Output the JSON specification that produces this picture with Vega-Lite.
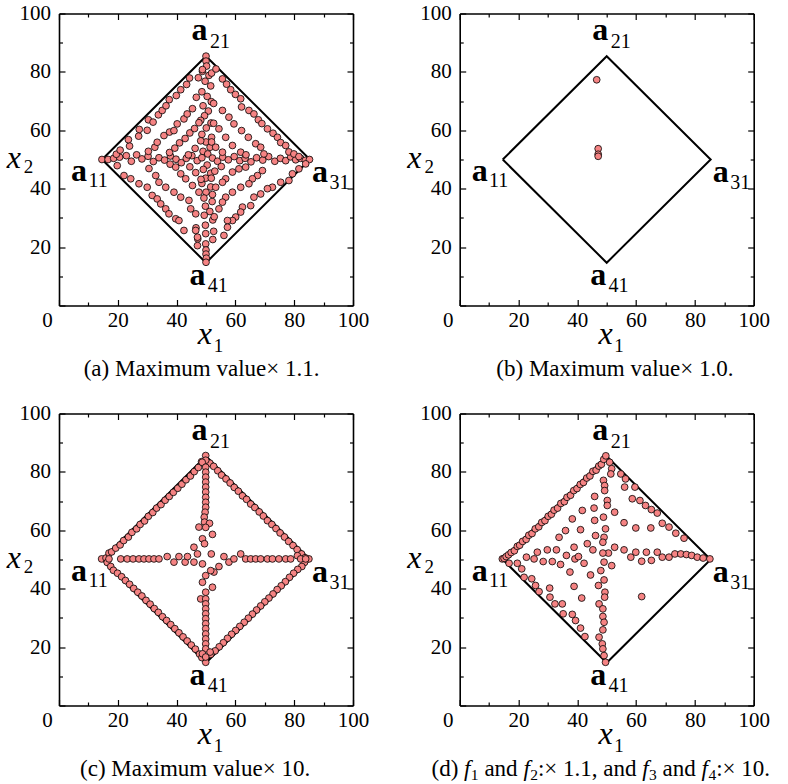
{
"$schema":"https://vega.github.io/schema/vega-lite/v6.json",
"background":"white",
"padding":{"left":6,"top":2.5,"right":5,"bottom":5},
"config":{"font":"Liberation Serif, Times New Roman, Times, serif","view":{"stroke":null},
 "text":{"font":"Liberation Serif, Times New Roman, Times, serif"},
 "axis":{"grid":false,"tickColor":"#000","domainColor":"#000","domainWidth":1.6,"tickWidth":1.2,"labelFont":"Liberation Serif, Times New Roman, Times, serif","labelFontSize":21,"labelColor":"#000","labelFlush":false,"labelOverlap":false,"labelBound":false}},
"columns":2,
"bounds":"flush",
"spacing":{"row":108,"column":106.7},
"datasets":{
"diamond":[{"o":1,"x":14.64,"y":50},{"o":2,"x":50,"y":85.36},{"o":3,"x":85.36,"y":50},{"o":4,"x":50,"y":14.64},{"o":5,"x":14.64,"y":50}],
"labA":[{"x":47.8,"y":91.0,"t":"a"},{"x":47.1,"y":6.9,"t":"a"},{"x":6.8,"y":42.8,"t":"a"},{"x":88.8,"y":42.2,"t":"a"}],
"labSub":[{"x":51.4,"y":88.3,"t":"21"},{"x":50.6,"y":4.6,"t":"41"},{"x":10.0,"y":40.5,"t":"11"},{"x":92.0,"y":40.0,"t":"31"}],
"axX":[{"x":49.6,"y":-13.1,"t":"x"},{"x":-15.4,"y":47.0,"t":"x"}],
"axSub":[{"x":52.6,"y":-16.0,"t":"1"},{"x":-12.0,"y":45.3,"t":"2"}],
"capA":[{"x":48.5,"y":-24.3,"t":"(a) Maximum value× 1.1."}],
"capB":[{"x":52.8,"y":-24.3,"t":"(b) Maximum value× 1.0."}],
"capC":[{"x":46.3,"y":-24.3,"t":"(c) Maximum value× 10."}],
"capDu":[{"x":-9.6,"y":-24.3,"t":"(d)"},{"x":8.4,"y":-24.3,"t":"and"},{"x":26.62,"y":-24.3,"t":":× 1.1, and"},{"x":69.02,"y":-24.3,"t":"and"},{"x":87.24,"y":-24.3,"t":":× 10."}],
"capDi":[{"x":1.48,"y":-24.3,"t":"f"},{"x":21.66,"y":-24.3,"t":"f"},{"x":62.1,"y":-24.3,"t":"f"},{"x":82.28,"y":-24.3,"t":"f"}],
"capDs":[{"x":3.8,"y":-25.6,"t":"1"},{"x":23.98,"y":-25.6,"t":"2"},{"x":64.42,"y":-25.6,"t":"3"},{"x":84.6,"y":-25.6,"t":"4"}],
"ptsA":[
{"x":50.0,"y":85.4},{"x":50.0,"y":83.7},{"x":50.2,"y":82.0},{"x":48.8,"y":80.2},{"x":51.0,"y":78.8},{"x":49.7,"y":76.8},{"x":51.6,"y":75.2},{"x":48.6,"y":73.2},{"x":50.4,"y":71.6},{"x":51.8,"y":69.8},{"x":49.0,"y":68.4},{"x":50.8,"y":66.6},{"x":49.5,"y":65.0},{"x":48.2,"y":63.4},{"x":51.7,"y":62.5},{"x":50.1,"y":60.8},{"x":48.6,"y":58.6},{"x":51.9,"y":57.6},{"x":50.0,"y":56.0},{"x":51.4,"y":54.2},{"x":49.0,"y":52.8},{"x":50.6,"y":51.9},{"x":50.4,"y":48.1},{"x":49.1,"y":46.6},{"x":51.6,"y":45.3},{"x":49.9,"y":43.6},{"x":48.6,"y":41.8},{"x":51.6,"y":40.6},{"x":50.0,"y":38.8},{"x":49.3,"y":36.8},{"x":52.1,"y":35.6},{"x":49.8,"y":34.0},{"x":51.3,"y":32.2},{"x":49.4,"y":30.9},{"x":52.3,"y":29.3},{"x":49.8,"y":27.5},{"x":46.6,"y":26.6},{"x":52.6,"y":25.4},{"x":49.9,"y":24.6},{"x":47.2,"y":22.8},{"x":52.3,"y":22.6},{"x":49.9,"y":21.1},{"x":50.0,"y":19.0},{"x":50.0,"y":17.6},{"x":50.1,"y":16.2},{"x":50.0,"y":14.8},
{"x":14.6,"y":50.0},{"x":16.7,"y":50.0},{"x":18.6,"y":50.4},{"x":20.6,"y":50.8},{"x":22.9,"y":51.3},{"x":24.6,"y":49.4},{"x":26.4,"y":51.6},{"x":28.2,"y":50.2},{"x":30.3,"y":51.1},{"x":32.1,"y":49.3},{"x":34.0,"y":50.6},{"x":35.9,"y":49.8},{"x":37.9,"y":51.2},{"x":39.8,"y":50.1},{"x":41.6,"y":48.9},{"x":43.3,"y":50.4},{"x":45.2,"y":51.3},{"x":47.0,"y":49.6},{"x":48.6,"y":50.6},{"x":52.2,"y":50.5},{"x":53.9,"y":49.4},{"x":55.7,"y":50.8},{"x":57.6,"y":49.9},{"x":59.6,"y":51.0},{"x":61.5,"y":49.6},{"x":63.3,"y":50.4},{"x":65.3,"y":49.2},{"x":67.2,"y":50.6},{"x":69.3,"y":49.8},{"x":71.3,"y":51.0},{"x":73.4,"y":49.4},{"x":75.3,"y":50.4},{"x":77.1,"y":49.6},{"x":78.8,"y":50.9},{"x":80.5,"y":49.9},{"x":82.2,"y":50.4},{"x":83.8,"y":49.7},{"x":85.2,"y":50.0},
{"x":19.5,"y":51.8},{"x":20.8,"y":53.2},{"x":24.0,"y":54.6},{"x":23.6,"y":56.8},{"x":27.1,"y":58.0},{"x":27.3,"y":60.3},{"x":30.0,"y":60.0},{"x":30.4,"y":63.6},{"x":32.0,"y":62.8},{"x":33.8,"y":65.3},{"x":35.1,"y":66.8},{"x":36.4,"y":68.4},{"x":37.5,"y":70.5},{"x":39.9,"y":71.9},{"x":41.4,"y":73.9},{"x":43.4,"y":75.7},{"x":44.4,"y":77.9},{"x":47.4,"y":78.0},{"x":48.8,"y":80.8},
{"x":51.9,"y":79.6},{"x":53.4,"y":81.0},{"x":55.6,"y":77.6},{"x":57.0,"y":75.8},{"x":58.4,"y":73.9},{"x":60.0,"y":72.3},{"x":61.8,"y":70.8},{"x":62.1,"y":68.0},{"x":64.6,"y":66.8},{"x":66.3,"y":65.6},{"x":67.8,"y":63.6},{"x":69.0,"y":62.3},{"x":70.9,"y":60.5},{"x":72.8,"y":59.0},{"x":74.3,"y":57.6},{"x":75.4,"y":55.8},{"x":77.1,"y":54.8},{"x":78.2,"y":52.6},{"x":79.9,"y":51.9},{"x":81.6,"y":51.0},
{"x":83.9,"y":48.5},{"x":81.6,"y":46.8},{"x":79.4,"y":45.1},{"x":78.2,"y":42.8},{"x":75.4,"y":42.2},{"x":72.6,"y":40.5},{"x":70.9,"y":40.0},{"x":68.6,"y":38.2},{"x":66.3,"y":37.1},{"x":65.2,"y":34.2},{"x":62.4,"y":33.7},{"x":61.8,"y":32.0},{"x":60.1,"y":30.3},{"x":59.0,"y":29.1},{"x":57.3,"y":29.1},{"x":57.3,"y":26.8},{"x":56.1,"y":24.0},
{"x":19.8,"y":47.9},{"x":22.1,"y":44.5},{"x":24.4,"y":43.4},{"x":27.2,"y":41.7},{"x":30.0,"y":40.5},{"x":31.7,"y":37.7},{"x":33.4,"y":36.5},{"x":34.6,"y":34.8},{"x":36.3,"y":33.1},{"x":37.4,"y":31.4},{"x":39.7,"y":29.7},{"x":40.8,"y":29.1},{"x":42.5,"y":25.7},{"x":46.5,"y":25.7},{"x":47.1,"y":23.4},{"x":47.1,"y":20.5},
{"x":30.4,"y":52.8},{"x":32.6,"y":54.2},{"x":33.4,"y":55.9},{"x":35.7,"y":58.2},{"x":37.6,"y":59.4},{"x":39.1,"y":59.9},{"x":40.2,"y":62.2},{"x":42.5,"y":63.9},{"x":43.6,"y":65.6},{"x":45.4,"y":67.4},{"x":46.7,"y":71.3},
{"x":52.6,"y":69.2},{"x":55.6,"y":66.8},{"x":57.8,"y":64.5},{"x":59.5,"y":62.2},{"x":62.1,"y":59.9},{"x":64.4,"y":57.6},{"x":66.9,"y":55.4},{"x":68.6,"y":54.2},{"x":69.7,"y":51.9},
{"x":69.2,"y":46.2},{"x":67.5,"y":44.5},{"x":65.8,"y":43.4},{"x":64.6,"y":41.7},{"x":61.8,"y":40.5},{"x":59.0,"y":38.8},{"x":56.7,"y":37.1},{"x":55.6,"y":35.4},{"x":54.4,"y":33.1},{"x":52.8,"y":30.4},
{"x":30.6,"y":46.9},{"x":32.9,"y":44.5},{"x":34.0,"y":42.2},{"x":36.3,"y":40.5},{"x":39.1,"y":38.8},{"x":41.4,"y":37.1},{"x":44.2,"y":36.0},{"x":44.8,"y":33.1},{"x":46.5,"y":31.4},
{"x":37.6,"y":52.4},{"x":39.4,"y":53.9},{"x":41.0,"y":55.7},{"x":42.9,"y":57.2},{"x":44.5,"y":59.1},{"x":46.1,"y":60.6},{"x":47.6,"y":62.6},
{"x":52.6,"y":62.4},{"x":54.4,"y":60.5},{"x":56.7,"y":57.6},{"x":59.0,"y":54.8},{"x":61.8,"y":52.5},{"x":63.6,"y":51.6},
{"x":63.5,"y":47.4},{"x":61.2,"y":46.8},{"x":59.0,"y":45.7},{"x":56.7,"y":43.4},{"x":55.6,"y":42.2},{"x":53.3,"y":40.5},{"x":52.2,"y":38.0},
{"x":37.8,"y":48.4},{"x":39.7,"y":47.4},{"x":41.4,"y":45.1},{"x":43.1,"y":43.4},{"x":45.4,"y":41.1},{"x":47.6,"y":38.8},
{"x":44.0,"y":51.6},{"x":46.3,"y":53.8},{"x":48.2,"y":56.4},{"x":51.9,"y":56.0},{"x":53.3,"y":54.2},{"x":55.6,"y":52.5},{"x":55.2,"y":47.6},{"x":53.0,"y":46.0},{"x":51.8,"y":43.6},{"x":44.5,"y":47.5},{"x":46.5,"y":45.5},{"x":48.3,"y":43.2}
],
"ptsB":[{"x":46.6,"y":77.3},{"x":47.1,"y":53.7},{"x":47.1,"y":51.8},{"x":47.1,"y":51.1}],
"ptsC":[
{"x":14.5,"y":50.2},{"x":85.0,"y":50.2},{"x":49.9,"y":85.6},{"x":49.9,"y":14.8},
{"x":16.0,"y":50.5},{"x":17.0,"y":52.2},{"x":17.9,"y":52.6},{"x":19.3,"y":53.9},{"x":20.8,"y":55.0},{"x":22.0,"y":56.5},{"x":23.6,"y":57.7},{"x":24.8,"y":59.3},{"x":26.4,"y":60.5},{"x":27.6,"y":62.0},{"x":29.1,"y":63.2},{"x":30.4,"y":64.8},{"x":31.9,"y":66.1},{"x":33.2,"y":67.6},{"x":34.7,"y":68.8},{"x":36.1,"y":70.3},{"x":37.5,"y":71.6},{"x":38.9,"y":73.0},{"x":40.4,"y":74.4},{"x":41.8,"y":75.8},{"x":43.2,"y":77.3},{"x":44.7,"y":78.6},{"x":46.0,"y":80.1},{"x":47.4,"y":81.5},{"x":48.5,"y":83.5},
{"x":51.3,"y":83.0},{"x":52.6,"y":81.9},{"x":54.0,"y":80.4},{"x":55.3,"y":78.9},{"x":56.8,"y":77.6},{"x":58.2,"y":76.2},{"x":59.6,"y":74.7},{"x":61.0,"y":73.4},{"x":62.4,"y":71.8},{"x":63.8,"y":70.6},{"x":65.2,"y":69.0},{"x":66.6,"y":67.8},{"x":68.1,"y":66.3},{"x":69.5,"y":64.9},{"x":70.9,"y":63.3},{"x":72.4,"y":62.0},{"x":73.8,"y":60.6},{"x":75.2,"y":59.1},{"x":76.7,"y":57.7},{"x":78.1,"y":56.2},{"x":79.6,"y":54.8},{"x":81.0,"y":53.4},{"x":82.5,"y":51.9},{"x":83.7,"y":50.6},
{"x":83.5,"y":49.0},{"x":82.6,"y":47.6},{"x":81.2,"y":46.6},{"x":79.8,"y":45.3},{"x":78.4,"y":43.9},{"x":77.0,"y":42.4},{"x":75.6,"y":41.0},{"x":74.2,"y":39.7},{"x":72.8,"y":38.2},{"x":71.4,"y":36.8},{"x":70.0,"y":35.5},{"x":68.6,"y":34.1},{"x":67.2,"y":32.7},{"x":65.8,"y":31.3},{"x":64.4,"y":29.9},{"x":63.0,"y":28.5},{"x":61.5,"y":27.1},{"x":60.1,"y":25.7},{"x":58.7,"y":24.4},{"x":57.3,"y":23.0},{"x":55.9,"y":21.5},{"x":54.5,"y":20.1},{"x":53.1,"y":18.7},{"x":51.6,"y":17.5},
{"x":16.4,"y":49.0},{"x":17.6,"y":47.6},{"x":18.5,"y":46.3},{"x":19.9,"y":45.3},{"x":21.3,"y":44.1},{"x":22.6,"y":42.8},{"x":24.0,"y":41.5},{"x":25.4,"y":40.1},{"x":26.8,"y":38.8},{"x":28.2,"y":37.5},{"x":29.6,"y":36.0},{"x":31.0,"y":34.7},{"x":32.4,"y":33.2},{"x":33.8,"y":31.9},{"x":35.2,"y":30.4},{"x":36.6,"y":29.1},{"x":38.0,"y":27.7},{"x":39.4,"y":26.3},{"x":40.8,"y":24.9},{"x":42.2,"y":23.5},{"x":43.6,"y":22.1},{"x":45.0,"y":20.7},{"x":46.4,"y":19.3},{"x":47.8,"y":17.6},{"x":48.6,"y":16.4},
{"x":49.9,"y":84.0},{"x":48.7,"y":83.3},{"x":49.9,"y":81.6},{"x":49.9,"y":79.9},{"x":49.9,"y":78.2},{"x":49.9,"y":76.5},{"x":49.9,"y":74.8},{"x":49.9,"y":73.1},{"x":49.9,"y":71.3},{"x":49.9,"y":69.6},{"x":49.9,"y":67.9},{"x":49.7,"y":66.2},{"x":49.4,"y":64.5},{"x":49.5,"y":62.8},{"x":51.2,"y":62.4},{"x":47.6,"y":61.1},{"x":49.9,"y":61.0},{"x":52.2,"y":58.6},{"x":48.8,"y":57.1},{"x":49.5,"y":55.4},{"x":45.9,"y":54.2},{"x":47.1,"y":51.9},{"x":51.8,"y":51.9},{"x":48.8,"y":48.5},{"x":52.7,"y":45.7},{"x":54.4,"y":47.6},
{"x":51.6,"y":46.2},{"x":49.9,"y":44.5},{"x":48.8,"y":42.2},{"x":52.2,"y":40.5},{"x":49.9,"y":38.8},{"x":48.2,"y":36.5},{"x":49.9,"y":36.5},{"x":49.9,"y":34.8},{"x":49.9,"y":33.1},{"x":49.9,"y":31.4},{"x":49.9,"y":29.7},{"x":49.9,"y":28.0},{"x":49.9,"y":26.3},{"x":49.9,"y":24.5},{"x":49.9,"y":22.8},{"x":49.9,"y":21.1},{"x":49.9,"y":19.4},{"x":48.8,"y":17.7},{"x":51.4,"y":18.3},{"x":49.9,"y":16.6},
{"x":17.0,"y":50.2},{"x":21.0,"y":50.2},{"x":23.2,"y":50.2},{"x":25.2,"y":50.2},{"x":27.2,"y":50.2},{"x":28.9,"y":50.2},{"x":30.6,"y":50.2},{"x":32.3,"y":50.2},{"x":34.0,"y":50.2},{"x":36.8,"y":51.0},{"x":39.1,"y":49.1},{"x":40.8,"y":51.0},{"x":42.9,"y":49.1},{"x":43.7,"y":51.0},{"x":45.9,"y":49.1},
{"x":56.1,"y":51.0},{"x":57.8,"y":49.1},{"x":59.5,"y":50.2},{"x":61.8,"y":51.9},{"x":63.5,"y":50.2},{"x":65.2,"y":50.2},{"x":66.9,"y":50.2},{"x":68.6,"y":50.2},{"x":70.9,"y":50.2},{"x":72.6,"y":50.2},{"x":74.8,"y":50.2},{"x":77.1,"y":50.2},{"x":78.8,"y":50.2},{"x":81.1,"y":51.3},{"x":82.2,"y":50.2},{"x":83.9,"y":50.2}
],
"ptsD":[
{"x":14.5,"y":50.2},{"x":15.1,"y":50.4},{"x":15.8,"y":51.0},{"x":16.6,"y":51.6},{"x":17.5,"y":52.4},{"x":18.6,"y":53.0},{"x":19.6,"y":54.5},{"x":20.4,"y":54.9},{"x":21.4,"y":56.2},{"x":22.6,"y":56.9},{"x":23.5,"y":58.3},{"x":24.6,"y":58.9},{"x":25.7,"y":60.5},{"x":26.9,"y":61.2},{"x":27.9,"y":62.7},{"x":29.0,"y":63.3},{"x":30.1,"y":64.8},{"x":31.2,"y":65.5},{"x":32.1,"y":66.9},{"x":33.3,"y":67.6},{"x":34.4,"y":69.2},{"x":35.6,"y":69.8},{"x":36.5,"y":71.3},{"x":37.7,"y":72.0},{"x":38.8,"y":73.6},{"x":39.9,"y":74.3},{"x":41.0,"y":75.7},{"x":42.1,"y":76.4},{"x":43.2,"y":77.9},{"x":44.3,"y":78.6},{"x":45.3,"y":80.2},{"x":46.4,"y":80.6},{"x":47.3,"y":82.0},{"x":48.2,"y":82.6},{"x":49.0,"y":84.3},{"x":49.7,"y":85.5},
{"x":51.0,"y":83.3},{"x":51.7,"y":81.1},{"x":51.4,"y":79.3},{"x":54.8,"y":79.3},{"x":56.4,"y":77.6},{"x":56.1,"y":74.8},{"x":59.6,"y":74.8},{"x":58.7,"y":70.8},{"x":61.3,"y":70.2},{"x":63.2,"y":68.5},{"x":65.2,"y":67.1},{"x":67.2,"y":65.9},{"x":68.9,"y":62.4},{"x":71.2,"y":61.1},{"x":73.5,"y":59.0},{"x":76.3,"y":57.3},
{"x":52.7,"y":66.2},{"x":55.9,"y":62.6},{"x":59.9,"y":60.8},{"x":65.0,"y":60.8},
{"x":48.9,"y":77.1},{"x":49.3,"y":75.3},{"x":49.3,"y":73.6},{"x":50.2,"y":70.2},{"x":50.2,"y":68.5},{"x":48.9,"y":64.5},{"x":49.6,"y":60.5},{"x":49.1,"y":57.6},{"x":48.7,"y":55.9},{"x":50.6,"y":52.2},{"x":49.1,"y":49.1},{"x":51.7,"y":47.9},{"x":49.1,"y":43.0},{"x":47.2,"y":41.1},{"x":49.4,"y":38.8},{"x":49.3,"y":37.1},{"x":47.4,"y":34.8},{"x":48.7,"y":33.1},{"x":48.7,"y":30.5},{"x":49.1,"y":28.5},{"x":48.7,"y":25.9},{"x":47.4,"y":23.4},{"x":48.5,"y":21.1},{"x":48.7,"y":19.4},{"x":49.1,"y":17.1},{"x":49.6,"y":14.8},
{"x":52.7,"y":54.2},{"x":55.9,"y":53.3},{"x":58.2,"y":50.8},{"x":59.9,"y":52.5},{"x":61.9,"y":49.4},{"x":63.5,"y":52.5},{"x":65.2,"y":49.7},{"x":67.2,"y":52.5},{"x":68.9,"y":50.8},{"x":71.2,"y":50.8},{"x":73.2,"y":51.9},{"x":75.2,"y":51.9},{"x":77.1,"y":51.7},{"x":78.9,"y":51.4},{"x":80.8,"y":50.8},{"x":82.8,"y":50.5},{"x":85.1,"y":50.2},
{"x":22.7,"y":50.8},{"x":25.3,"y":50.2},{"x":26.4,"y":52.5},{"x":28.4,"y":49.3},{"x":29.8,"y":53.3},{"x":31.5,"y":49.3},{"x":32.9,"y":53.3},{"x":34.3,"y":48.3},{"x":36.3,"y":51.4},{"x":38.9,"y":54.2},{"x":39.2,"y":50.2},{"x":42.3,"y":48.7},{"x":40.4,"y":51.0},
{"x":38.3,"y":63.9},{"x":41.7,"y":66.8},{"x":45.9,"y":71.6},{"x":45.7,"y":67.6},{"x":36.0,"y":59.9},{"x":33.8,"y":57.6},{"x":41.1,"y":60.2},{"x":46.2,"y":58.2},{"x":43.4,"y":55.4},{"x":45.3,"y":53.3},{"x":48.7,"y":52.2},{"x":45.9,"y":63.4},
{"x":16.8,"y":48.7},{"x":19.6,"y":48.7},{"x":21.1,"y":46.8},{"x":21.9,"y":43.9},{"x":24.5,"y":43.4},{"x":25.8,"y":41.1},{"x":27.0,"y":39.0},{"x":30.6,"y":40.2},{"x":30.7,"y":37.1},{"x":32.4,"y":34.8},{"x":34.9,"y":34.8},{"x":35.2,"y":31.4},{"x":38.3,"y":31.2},{"x":39.4,"y":29.1},{"x":41.1,"y":26.5},{"x":42.6,"y":23.6},
{"x":37.5,"y":45.7},{"x":38.9,"y":40.8},{"x":41.5,"y":36.8},{"x":44.5,"y":44.7},{"x":48.0,"y":46.2},
{"x":61.9,"y":37.3}
]
},
"concat":[
{"width":294,"height":292,"resolve":{"axis":{"x":"independent","y":"independent"}},"layer":[
 {"data":{"name":"diamond"},"mark":{"type":"line","stroke":"#000","strokeWidth":2,"strokeJoin":"miter"},"encoding":{"x":{"field":"x","type":"quantitative","scale":{"domain":[0,100],"nice":false,"zero":false},"axis":{"orient":"bottom","title":null,"values":[0,20,40,60,80,100],"tickSize":-6,"labelPadding":9.5,"labelOffset":{"condition":{"test":"datum.value === 0","value":-12},"value":0}}},"y":{"field":"y","type":"quantitative","scale":{"domain":[0,100],"nice":false,"zero":false},"axis":{"orient":"left","title":null,"values":[0,20,40,60,80,100],"tickSize":-6,"labelPadding":14.5,"labelExpr":"datum.value === 0 ? '' : datum.label"}},"order":{"field":"o","type":"quantitative"}}},
 {"data":{"name":"ptsA"},"mark":{"type":"circle","size":46,"fill":"#F58383","stroke":"#000","strokeWidth":0.8,"opacity":1},"encoding":{"x":{"field":"x","type":"quantitative","scale":{"domain":[0,100],"nice":false,"zero":false},"axis":{"orient":"top","title":null,"values":[0,20,40,60,80,100],"tickSize":-6,"labels":false}},"y":{"field":"y","type":"quantitative","scale":{"domain":[0,100],"nice":false,"zero":false},"axis":{"orient":"right","title":null,"values":[0,20,40,60,80,100],"tickSize":-6,"labels":false}}}},
 {"data":{"name":"labA"},"mark":{"type":"text","fontWeight":"bold","fontSize":32,"align":"center","baseline":"alphabetic","color":"#000"},"encoding":{"x":{"field":"x","type":"quantitative","scale":{"domain":[0,100],"nice":false,"zero":false},"axis":{"orient":"bottom","title":null,"values":[10,30,50,70,90],"tickSize":-3.5,"labels":false,"domain":false}},"y":{"field":"y","type":"quantitative","scale":{"domain":[0,100],"nice":false,"zero":false},"axis":{"orient":"left","title":null,"values":[10,30,50,70,90],"tickSize":-3.5,"labels":false,"domain":false}},"text":{"field":"t"}}},
 {"data":{"name":"labSub"},"mark":{"type":"text","fontSize":20,"align":"left","baseline":"alphabetic","color":"#000"},"encoding":{"x":{"field":"x","type":"quantitative","scale":{"domain":[0,100],"nice":false,"zero":false},"axis":{"orient":"top","title":null,"values":[10,30,50,70,90],"tickSize":-3.5,"labels":false,"domain":false}},"y":{"field":"y","type":"quantitative","scale":{"domain":[0,100],"nice":false,"zero":false},"axis":{"orient":"right","title":null,"values":[10,30,50,70,90],"tickSize":-3.5,"labels":false,"domain":false}},"text":{"field":"t"}}},
 {"data":{"name":"axX"},"mark":{"type":"text","fontStyle":"italic","fontSize":32,"align":"center","baseline":"alphabetic","color":"#000"},"encoding":{"x":{"field":"x","type":"quantitative","scale":{"domain":[0,100],"nice":false,"zero":false},"axis":null},"y":{"field":"y","type":"quantitative","scale":{"domain":[0,100],"nice":false,"zero":false},"axis":null},"text":{"field":"t"}}},
 {"data":{"name":"axSub"},"mark":{"type":"text","fontSize":19,"align":"left","baseline":"alphabetic","color":"#000"},"encoding":{"x":{"field":"x","type":"quantitative","scale":{"domain":[0,100],"nice":false,"zero":false},"axis":null},"y":{"field":"y","type":"quantitative","scale":{"domain":[0,100],"nice":false,"zero":false},"axis":null},"text":{"field":"t"}}},
 {"data":{"name":"capA"},"mark":{"type":"text","fontSize":23,"align":"center","baseline":"alphabetic","color":"#000"},"encoding":{"x":{"field":"x","type":"quantitative","scale":{"domain":[0,100],"nice":false,"zero":false},"axis":null},"y":{"field":"y","type":"quantitative","scale":{"domain":[0,100],"nice":false,"zero":false},"axis":null},"text":{"field":"t"}}}
]},
{"width":294,"height":292,"resolve":{"axis":{"x":"independent","y":"independent"}},"layer":[
 {"data":{"name":"diamond"},"mark":{"type":"line","stroke":"#000","strokeWidth":2,"strokeJoin":"miter"},"encoding":{"x":{"field":"x","type":"quantitative","scale":{"domain":[0,100],"nice":false,"zero":false},"axis":{"orient":"bottom","title":null,"values":[0,20,40,60,80,100],"tickSize":-6,"labelPadding":9.5,"labelOffset":{"condition":{"test":"datum.value === 0","value":-12},"value":0}}},"y":{"field":"y","type":"quantitative","scale":{"domain":[0,100],"nice":false,"zero":false},"axis":{"orient":"left","title":null,"values":[0,20,40,60,80,100],"tickSize":-6,"labelPadding":14.5,"labelExpr":"datum.value === 0 ? '' : datum.label"}},"order":{"field":"o","type":"quantitative"}}},
 {"data":{"name":"ptsB"},"mark":{"type":"circle","size":46,"fill":"#F58383","stroke":"#000","strokeWidth":0.8,"opacity":1},"encoding":{"x":{"field":"x","type":"quantitative","scale":{"domain":[0,100],"nice":false,"zero":false},"axis":{"orient":"top","title":null,"values":[0,20,40,60,80,100],"tickSize":-6,"labels":false}},"y":{"field":"y","type":"quantitative","scale":{"domain":[0,100],"nice":false,"zero":false},"axis":{"orient":"right","title":null,"values":[0,20,40,60,80,100],"tickSize":-6,"labels":false}}}},
 {"data":{"name":"labA"},"mark":{"type":"text","fontWeight":"bold","fontSize":32,"align":"center","baseline":"alphabetic","color":"#000"},"encoding":{"x":{"field":"x","type":"quantitative","scale":{"domain":[0,100],"nice":false,"zero":false},"axis":{"orient":"bottom","title":null,"values":[10,30,50,70,90],"tickSize":-3.5,"labels":false,"domain":false}},"y":{"field":"y","type":"quantitative","scale":{"domain":[0,100],"nice":false,"zero":false},"axis":{"orient":"left","title":null,"values":[10,30,50,70,90],"tickSize":-3.5,"labels":false,"domain":false}},"text":{"field":"t"}}},
 {"data":{"name":"labSub"},"mark":{"type":"text","fontSize":20,"align":"left","baseline":"alphabetic","color":"#000"},"encoding":{"x":{"field":"x","type":"quantitative","scale":{"domain":[0,100],"nice":false,"zero":false},"axis":{"orient":"top","title":null,"values":[10,30,50,70,90],"tickSize":-3.5,"labels":false,"domain":false}},"y":{"field":"y","type":"quantitative","scale":{"domain":[0,100],"nice":false,"zero":false},"axis":{"orient":"right","title":null,"values":[10,30,50,70,90],"tickSize":-3.5,"labels":false,"domain":false}},"text":{"field":"t"}}},
 {"data":{"name":"axX"},"mark":{"type":"text","fontStyle":"italic","fontSize":32,"align":"center","baseline":"alphabetic","color":"#000"},"encoding":{"x":{"field":"x","type":"quantitative","scale":{"domain":[0,100],"nice":false,"zero":false},"axis":null},"y":{"field":"y","type":"quantitative","scale":{"domain":[0,100],"nice":false,"zero":false},"axis":null},"text":{"field":"t"}}},
 {"data":{"name":"axSub"},"mark":{"type":"text","fontSize":19,"align":"left","baseline":"alphabetic","color":"#000"},"encoding":{"x":{"field":"x","type":"quantitative","scale":{"domain":[0,100],"nice":false,"zero":false},"axis":null},"y":{"field":"y","type":"quantitative","scale":{"domain":[0,100],"nice":false,"zero":false},"axis":null},"text":{"field":"t"}}},
 {"data":{"name":"capB"},"mark":{"type":"text","fontSize":23,"align":"center","baseline":"alphabetic","color":"#000"},"encoding":{"x":{"field":"x","type":"quantitative","scale":{"domain":[0,100],"nice":false,"zero":false},"axis":null},"y":{"field":"y","type":"quantitative","scale":{"domain":[0,100],"nice":false,"zero":false},"axis":null},"text":{"field":"t"}}}
]},
{"width":294,"height":292,"resolve":{"axis":{"x":"independent","y":"independent"}},"layer":[
 {"data":{"name":"diamond"},"mark":{"type":"line","stroke":"#000","strokeWidth":2,"strokeJoin":"miter"},"encoding":{"x":{"field":"x","type":"quantitative","scale":{"domain":[0,100],"nice":false,"zero":false},"axis":{"orient":"bottom","title":null,"values":[0,20,40,60,80,100],"tickSize":-6,"labelPadding":9.5,"labelOffset":{"condition":{"test":"datum.value === 0","value":-12},"value":0}}},"y":{"field":"y","type":"quantitative","scale":{"domain":[0,100],"nice":false,"zero":false},"axis":{"orient":"left","title":null,"values":[0,20,40,60,80,100],"tickSize":-6,"labelPadding":14.5,"labelExpr":"datum.value === 0 ? '' : datum.label"}},"order":{"field":"o","type":"quantitative"}}},
 {"data":{"name":"ptsC"},"mark":{"type":"circle","size":46,"fill":"#F58383","stroke":"#000","strokeWidth":0.8,"opacity":1},"encoding":{"x":{"field":"x","type":"quantitative","scale":{"domain":[0,100],"nice":false,"zero":false},"axis":{"orient":"top","title":null,"values":[0,20,40,60,80,100],"tickSize":-6,"labels":false}},"y":{"field":"y","type":"quantitative","scale":{"domain":[0,100],"nice":false,"zero":false},"axis":{"orient":"right","title":null,"values":[0,20,40,60,80,100],"tickSize":-6,"labels":false}}}},
 {"data":{"name":"labA"},"mark":{"type":"text","fontWeight":"bold","fontSize":32,"align":"center","baseline":"alphabetic","color":"#000"},"encoding":{"x":{"field":"x","type":"quantitative","scale":{"domain":[0,100],"nice":false,"zero":false},"axis":{"orient":"bottom","title":null,"values":[10,30,50,70,90],"tickSize":-3.5,"labels":false,"domain":false}},"y":{"field":"y","type":"quantitative","scale":{"domain":[0,100],"nice":false,"zero":false},"axis":{"orient":"left","title":null,"values":[10,30,50,70,90],"tickSize":-3.5,"labels":false,"domain":false}},"text":{"field":"t"}}},
 {"data":{"name":"labSub"},"mark":{"type":"text","fontSize":20,"align":"left","baseline":"alphabetic","color":"#000"},"encoding":{"x":{"field":"x","type":"quantitative","scale":{"domain":[0,100],"nice":false,"zero":false},"axis":{"orient":"top","title":null,"values":[10,30,50,70,90],"tickSize":-3.5,"labels":false,"domain":false}},"y":{"field":"y","type":"quantitative","scale":{"domain":[0,100],"nice":false,"zero":false},"axis":{"orient":"right","title":null,"values":[10,30,50,70,90],"tickSize":-3.5,"labels":false,"domain":false}},"text":{"field":"t"}}},
 {"data":{"name":"axX"},"mark":{"type":"text","fontStyle":"italic","fontSize":32,"align":"center","baseline":"alphabetic","color":"#000"},"encoding":{"x":{"field":"x","type":"quantitative","scale":{"domain":[0,100],"nice":false,"zero":false},"axis":null},"y":{"field":"y","type":"quantitative","scale":{"domain":[0,100],"nice":false,"zero":false},"axis":null},"text":{"field":"t"}}},
 {"data":{"name":"axSub"},"mark":{"type":"text","fontSize":19,"align":"left","baseline":"alphabetic","color":"#000"},"encoding":{"x":{"field":"x","type":"quantitative","scale":{"domain":[0,100],"nice":false,"zero":false},"axis":null},"y":{"field":"y","type":"quantitative","scale":{"domain":[0,100],"nice":false,"zero":false},"axis":null},"text":{"field":"t"}}},
 {"data":{"name":"capC"},"mark":{"type":"text","fontSize":23,"align":"center","baseline":"alphabetic","color":"#000"},"encoding":{"x":{"field":"x","type":"quantitative","scale":{"domain":[0,100],"nice":false,"zero":false},"axis":null},"y":{"field":"y","type":"quantitative","scale":{"domain":[0,100],"nice":false,"zero":false},"axis":null},"text":{"field":"t"}}}
]},
{"width":294,"height":292,"resolve":{"axis":{"x":"independent","y":"independent"}},"layer":[
 {"data":{"name":"diamond"},"mark":{"type":"line","stroke":"#000","strokeWidth":2,"strokeJoin":"miter"},"encoding":{"x":{"field":"x","type":"quantitative","scale":{"domain":[0,100],"nice":false,"zero":false},"axis":{"orient":"bottom","title":null,"values":[0,20,40,60,80,100],"tickSize":-6,"labelPadding":9.5,"labelOffset":{"condition":{"test":"datum.value === 0","value":-12},"value":0}}},"y":{"field":"y","type":"quantitative","scale":{"domain":[0,100],"nice":false,"zero":false},"axis":{"orient":"left","title":null,"values":[0,20,40,60,80,100],"tickSize":-6,"labelPadding":14.5,"labelExpr":"datum.value === 0 ? '' : datum.label"}},"order":{"field":"o","type":"quantitative"}}},
 {"data":{"name":"ptsD"},"mark":{"type":"circle","size":46,"fill":"#F58383","stroke":"#000","strokeWidth":0.8,"opacity":1},"encoding":{"x":{"field":"x","type":"quantitative","scale":{"domain":[0,100],"nice":false,"zero":false},"axis":{"orient":"top","title":null,"values":[0,20,40,60,80,100],"tickSize":-6,"labels":false}},"y":{"field":"y","type":"quantitative","scale":{"domain":[0,100],"nice":false,"zero":false},"axis":{"orient":"right","title":null,"values":[0,20,40,60,80,100],"tickSize":-6,"labels":false}}}},
 {"data":{"name":"labA"},"mark":{"type":"text","fontWeight":"bold","fontSize":32,"align":"center","baseline":"alphabetic","color":"#000"},"encoding":{"x":{"field":"x","type":"quantitative","scale":{"domain":[0,100],"nice":false,"zero":false},"axis":{"orient":"bottom","title":null,"values":[10,30,50,70,90],"tickSize":-3.5,"labels":false,"domain":false}},"y":{"field":"y","type":"quantitative","scale":{"domain":[0,100],"nice":false,"zero":false},"axis":{"orient":"left","title":null,"values":[10,30,50,70,90],"tickSize":-3.5,"labels":false,"domain":false}},"text":{"field":"t"}}},
 {"data":{"name":"labSub"},"mark":{"type":"text","fontSize":20,"align":"left","baseline":"alphabetic","color":"#000"},"encoding":{"x":{"field":"x","type":"quantitative","scale":{"domain":[0,100],"nice":false,"zero":false},"axis":{"orient":"top","title":null,"values":[10,30,50,70,90],"tickSize":-3.5,"labels":false,"domain":false}},"y":{"field":"y","type":"quantitative","scale":{"domain":[0,100],"nice":false,"zero":false},"axis":{"orient":"right","title":null,"values":[10,30,50,70,90],"tickSize":-3.5,"labels":false,"domain":false}},"text":{"field":"t"}}},
 {"data":{"name":"axX"},"mark":{"type":"text","fontStyle":"italic","fontSize":32,"align":"center","baseline":"alphabetic","color":"#000"},"encoding":{"x":{"field":"x","type":"quantitative","scale":{"domain":[0,100],"nice":false,"zero":false},"axis":null},"y":{"field":"y","type":"quantitative","scale":{"domain":[0,100],"nice":false,"zero":false},"axis":null},"text":{"field":"t"}}},
 {"data":{"name":"axSub"},"mark":{"type":"text","fontSize":19,"align":"left","baseline":"alphabetic","color":"#000"},"encoding":{"x":{"field":"x","type":"quantitative","scale":{"domain":[0,100],"nice":false,"zero":false},"axis":null},"y":{"field":"y","type":"quantitative","scale":{"domain":[0,100],"nice":false,"zero":false},"axis":null},"text":{"field":"t"}}},
 {"data":{"name":"capDu"},"mark":{"type":"text","fontSize":23,"align":"left","baseline":"alphabetic","color":"#000"},"encoding":{"x":{"field":"x","type":"quantitative","scale":{"domain":[0,100],"nice":false,"zero":false},"axis":null},"y":{"field":"y","type":"quantitative","scale":{"domain":[0,100],"nice":false,"zero":false},"axis":null},"text":{"field":"t"}}},
 {"data":{"name":"capDi"},"mark":{"type":"text","fontStyle":"italic","fontSize":23,"align":"left","baseline":"alphabetic","color":"#000"},"encoding":{"x":{"field":"x","type":"quantitative","scale":{"domain":[0,100],"nice":false,"zero":false},"axis":null},"y":{"field":"y","type":"quantitative","scale":{"domain":[0,100],"nice":false,"zero":false},"axis":null},"text":{"field":"t"}}},
 {"data":{"name":"capDs"},"mark":{"type":"text","fontSize":15.5,"align":"left","baseline":"alphabetic","color":"#000"},"encoding":{"x":{"field":"x","type":"quantitative","scale":{"domain":[0,100],"nice":false,"zero":false},"axis":null},"y":{"field":"y","type":"quantitative","scale":{"domain":[0,100],"nice":false,"zero":false},"axis":null},"text":{"field":"t"}}}
]}
]
}
